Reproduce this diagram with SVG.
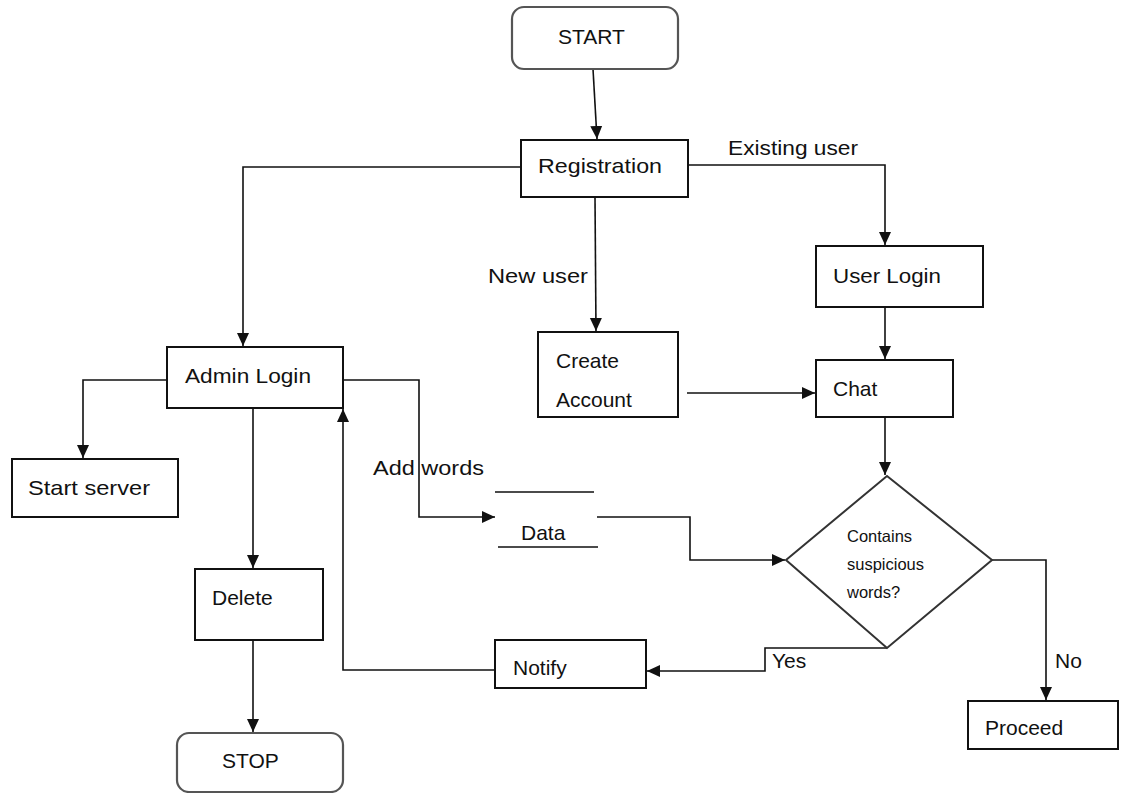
<svg xmlns="http://www.w3.org/2000/svg" width="1121" height="793" viewBox="0 0 1121 793">
<style>
text{font-family:"Liberation Sans",Arial,sans-serif;font-size:21px;fill:#111}
.sm{font-size:16.5px}
.box{fill:#fff;stroke:#111;stroke-width:2}
.term{fill:#fff;stroke:#555;stroke-width:2.2}
.ln{fill:none;stroke:#111;stroke-width:1.6}
.conn{fill:none;stroke:#111;stroke-width:1.6;marker-end:url(#ah)}
</style>
<defs>
<marker id="ah" markerUnits="userSpaceOnUse" markerWidth="14" markerHeight="14" viewBox="0 0 14 14" refX="13" refY="7" orient="auto">
<path d="M0,1 L13,7 L0,13 Z" fill="#111"/>
</marker>
</defs>
<rect width="1121" height="793" fill="#fff"/>
<g id="connectors">
<path class="conn" d="M593,69 L597,139"/>
<path class="conn" d="M521,167 L243,167 L243,346"/>
<path class="conn" d="M688,165 L885,165 L885,245"/>
<path class="conn" d="M595,197 L596,331"/>
<path class="conn" d="M885,307 L885,359"/>
<path class="conn" d="M687,393 L815,393"/>
<path class="conn" d="M885,417 L885,475"/>
<path class="conn" d="M992,560 L1046,560 L1046,700"/>
<path class="conn" d="M887,648 L765,648 L765,671 L647,671"/>
<path class="conn" d="M495,670 L343,670 L343,409"/>
<path class="conn" d="M253,408 L253,568"/>
<path class="conn" d="M253,640 L253,732"/>
<path class="conn" d="M167,380 L83,380 L83,458"/>
<path class="conn" d="M343,380 L419,380 L419,517 L495,517"/>
<path class="conn" d="M597,517 L690,517 L690,560 L785,560"/>
<text x="728" y="155" textLength="130" lengthAdjust="spacingAndGlyphs">Existing user</text>
<text x="488" y="283" textLength="100" lengthAdjust="spacingAndGlyphs">New user</text>
<text x="373" y="475" textLength="111" lengthAdjust="spacingAndGlyphs">Add words</text>
<text x="772" y="668">Yes</text>
<text x="1055" y="668">No</text>
</g>
<g id="start"><rect class="term" x="512" y="7" width="166" height="62" rx="12"/><text x="558" y="44">START</text></g>
<g id="registration"><rect class="box" x="521" y="140" width="167" height="57"/><text x="538" y="173" textLength="124" lengthAdjust="spacingAndGlyphs">Registration</text></g>
<g id="user-login"><rect class="box" x="816" y="246" width="167" height="61"/><text x="833" y="283" textLength="108" lengthAdjust="spacingAndGlyphs">User Login</text></g>
<g id="create-account"><rect class="box" x="538" y="332" width="140" height="85"/><text x="556" y="368">Create</text><text x="556" y="407">Account</text></g>
<g id="chat"><rect class="box" x="816" y="360" width="137" height="57"/><text x="833" y="396">Chat</text></g>
<g id="admin-login"><rect class="box" x="167" y="347" width="176" height="61"/><text x="185" y="383" textLength="126" lengthAdjust="spacingAndGlyphs">Admin Login</text></g>
<g id="start-server"><rect class="box" x="12" y="459" width="166" height="58"/><text x="28" y="495" textLength="122" lengthAdjust="spacingAndGlyphs">Start server</text></g>
<g id="data"><path class="ln" d="M495,492 L594,492 M498,547 L598,547"/><text x="521" y="540">Data</text></g>
<g id="decision"><path class="box" d="M887,476 L992,560 L887,648 L786,560 Z" style="stroke:#333"/><text class="sm" x="847" y="542">Contains</text><text class="sm" x="847" y="570">suspicious</text><text class="sm" x="847" y="598">words?</text></g>
<g id="delete"><rect class="box" x="195" y="569" width="128" height="71"/><text x="212" y="605">Delete</text></g>
<g id="notify"><rect class="box" x="495" y="640" width="151" height="48"/><text x="513" y="675">Notify</text></g>
<g id="proceed"><rect class="box" x="968" y="701" width="150" height="48"/><text x="985" y="735">Proceed</text></g>
<g id="stop"><rect class="term" x="177" y="733" width="166" height="59" rx="12"/><text x="222" y="768">STOP</text></g>
</svg>
